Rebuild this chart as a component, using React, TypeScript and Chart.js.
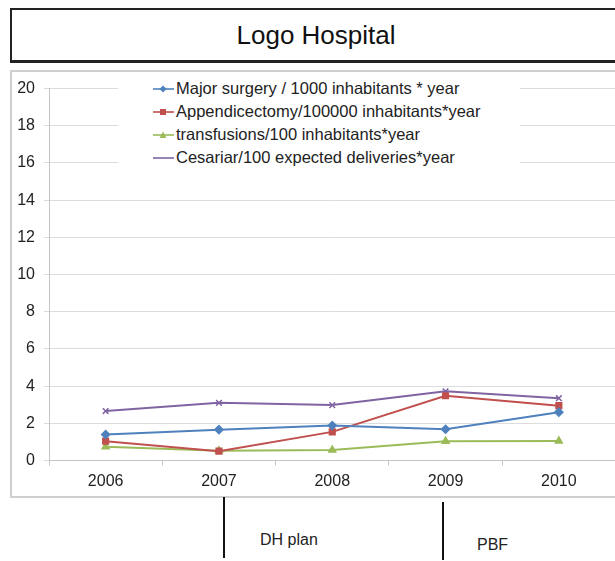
import React, { useEffect, useRef } from "react";
import { Chart, registerables } from "chart.js";

Chart.register(...registerables);

const years = ["2006", "2007", "2008", "2009", "2010"];
const majorSurgery = [1.4, 1.66, 1.88, 1.68, 2.6];
const appendicectomy = [1.04, 0.5, 1.54, 3.48, 2.95];
const transfusions = [0.74, 0.52, 0.56, 1.04, 1.05];
const cesarian = [2.66, 3.1, 2.98, 3.72, 3.35];

const seriesNames = [
  "Major surgery / 1000 inhabitants * year",
  "Appendicectomy/100000 inhabitants*year",
  "transfusions/100 inhabitants*year",
  "Cesariar/100 expected deliveries*year",
];
const seriesColors = ["#4F81BD", "#C0504D", "#9BBB59", "#8064A2"];
const seriesMarkers = ["rectRot", "rect", "triangle", "crossRot"];
const seriesData = [majorSurgery, appendicectomy, transfusions, cesarian];

const annotations = [
  { label: "DH plan", lineX: 223, lineTop: 497, lineBottom: 558, textX: 260, textY: 530 },
  { label: "PBF", lineX: 442, lineTop: 502, lineBottom: 560, textX: 477, textY: 535 },
];

const FONT = '"Liberation Sans", Arial, Helvetica, sans-serif';

function LegendSymbol({ color, marker }: { color: string; marker: string }) {
  const cx = 10, cy = 6;
  let shape: any = null;
  if (marker === "rectRot") shape = <polygon points={`${cx},${cy - 3.5} ${cx + 3.5},${cy} ${cx},${cy + 3.5} ${cx - 3.5},${cy}`} fill={color} />;
  else if (marker === "rect") shape = <rect x={cx - 3} y={cy - 3} width={6} height={6} fill={color} />;
  else if (marker === "triangle") shape = <polygon points={`${cx},${cy - 3.5} ${cx + 3.5},${cy + 3} ${cx - 3.5},${cy + 3}`} fill={color} />;
  return (
    <svg width={22} height={12} style={{ display: "inline-block", verticalAlign: "middle", marginRight: 1 }}>
      <line x1={0} y1={cy} x2={21} y2={cy} stroke={color} strokeWidth={1.6} />
      {shape}
    </svg>
  );
}

export default function App() {
  const canvasRef = useRef<HTMLCanvasElement | null>(null);

  useEffect(() => {
    if (!canvasRef.current) return;
    const chart = new Chart(canvasRef.current, {
      type: "line",
      data: {
        labels: years,
        datasets: seriesData.map((d, i) => ({
          label: seriesNames[i],
          data: d,
          borderColor: seriesColors[i],
          backgroundColor: seriesColors[i],
          borderWidth: 2,
          pointStyle: seriesMarkers[i] as any,
          pointRadius: 4,
          pointBorderWidth: 1.5,
          tension: 0,
        })),
      },
      options: {
        responsive: false,
        animation: false,
        devicePixelRatio: 1,
        layout: { padding: { top: 14.5, right: 0, left: 0, bottom: 0 } },
        plugins: { legend: { display: false }, tooltip: { enabled: false }, title: { display: false } },
        scales: {
          x: {
            type: "category",
            offset: true,
            border: { display: true, color: "#c4c4c4", width: 1 },
            grid: { display: true, drawOnChartArea: false, drawTicks: true, tickLength: 5, color: "#c4c4c4", offset: true },
            ticks: { color: "#222", font: { family: FONT, size: 16 }, padding: 6, maxRotation: 0 },
            afterFit: (s: any) => { s.height = 35.5; },
          },
          y: {
            min: 0,
            max: 20,
            border: { display: true, color: "#c4c4c4", width: 1 },
            grid: { color: "#dcdcdc", lineWidth: 1, tickLength: 5, drawTicks: true },
            ticks: { stepSize: 2, color: "#222", font: { family: FONT, size: 16 }, padding: 9 },
            afterFit: (s: any) => { s.width = 39; },
          },
        },
      },
    });
    return () => chart.destroy();
  }, []);

  return (
    <div style={{ position: "fixed", left: 0, top: 0, width: 615, height: 561, overflow: "hidden", background: "#fff", fontFamily: FONT }}>
      {/* title box */}
      <div style={{ position: "absolute", left: 10, top: 8, width: 640, height: 50, borderTop: "2px solid #222", borderLeft: "2px solid #222", borderBottom: "3px solid #222", boxSizing: "content-box" }} />
      <div style={{ position: "absolute", left: 216, width: 200, top: 20, textAlign: "center", fontSize: 26, color: "#111", lineHeight: "30px" }}>Logo Hospital</div>
      {/* chart box */}
      <div style={{ position: "absolute", left: 10, top: 70, width: 640, height: 424, border: "2px solid #cfcfcf", borderRight: "none" }} />
      <canvas ref={canvasRef} width={611} height={426} style={{ position: "absolute", left: 10, top: 70 }} />
      {/* legend */}
      <div style={{ position: "absolute", left: 118, top: 72, width: 402, height: 98, background: "#fff" }}>
        <div style={{ position: "absolute", left: 35, top: 4 }}>
          {seriesNames.map((n, i) => (
            <div key={n} style={{ height: 23, lineHeight: "23px", fontSize: 16.5, color: "#222", whiteSpace: "nowrap" }}>
              <LegendSymbol color={seriesColors[i]} marker={seriesMarkers[i]} />
              <span style={{ verticalAlign: "middle" }}>{n}</span>
            </div>
          ))}
        </div>
      </div>
      {/* annotations */}
      {annotations.map((a) => (
        <React.Fragment key={a.label}>
          <div style={{ position: "absolute", left: a.lineX, top: a.lineTop, width: 2, height: a.lineBottom - a.lineTop, background: "#111" }} />
          <div style={{ position: "absolute", left: a.textX, top: a.textY, fontSize: 16, color: "#222", lineHeight: "20px" }}>{a.label}</div>
        </React.Fragment>
      ))}
    </div>
  );
}
